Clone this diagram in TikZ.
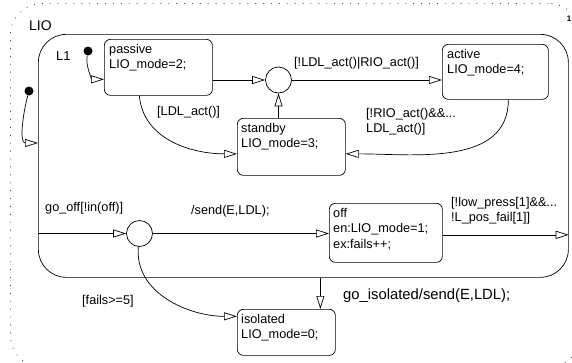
\documentclass[tikz,border=0pt]{standalone}
\usepackage{fontspec}
\setmainfont{Liberation Sans}
\usetikzlibrary{arrows.meta}
\tikzset{
  state/.style={draw, rounded corners=6pt, line width=0.7pt, inner sep=0pt},
  statetext/.style={anchor=north west, align=left, inner sep=0pt, font=\fontsize{12.7}{15.5}\selectfont},
  junction/.style={draw, circle, minimum size=26pt, inner sep=0pt, line width=0.7pt},
  trans/.style={line width=0.7pt, -{Triangle[open, length=13pt, width=8pt]}},
  tlabel/.style={inner sep=0pt, align=left, font=\fontsize{12.7}{15}\selectfont},
  dflt/.style={circle, fill, minimum size=9pt, inner sep=0pt},
}
\begin{document}
\begin{tikzpicture}[x=1pt, y=-1pt]
            \useasboundingbox (0,0) rectangle (572,362);
            %superstates
            \node[draw=black!70, dash pattern=on 0.9pt off 7pt, line width=0.8pt, rounded corners=32pt, minimum width=570pt, minimum height=364pt, anchor=north west] (LIO) at (10,3) {};

            \node[anchor=west, inner sep=0pt, font=\fontsize{14}{14}\selectfont] (LIO-t) at (29,26) {LIO};

            \node[font=\bfseries\fontsize{8}{8}\selectfont, inner sep=0pt] (num) at (569,19) {1};

            \node[draw, line width=0.7pt, rounded corners=28pt, minimum width=530pt, minimum height=243pt, anchor=north west] (L1) at (38,34) {};

            \node[anchor=west, inner sep=0pt, font=\fontsize{13}{13}\selectfont] (L1-t) at (56,56) {L1};

            %states
            \node[state, minimum width=108pt, minimum height=56pt, anchor=north west] (passive) at (104,39) {};

            \node[statetext] (passive-t) at ([shift={(5pt,-5pt)}]passive.north west) {passive\\LIO\_mode=2;};

            \node[state, minimum width=106pt, minimum height=55pt, anchor=north west] (active) at (442,44) {};

            \node[statetext] (active-t) at ([shift={(5pt,-5pt)}]active.north west) {active\\LIO\_mode=4;};

            \node[state, minimum width=108pt, minimum height=57pt, anchor=north west] (standby) at (237,118) {};

            \node[statetext] (standby-t) at ([shift={(4pt,-5pt)}]standby.north west) {standby\\LIO\_mode=3;};

            \node[state, minimum width=113pt, minimum height=59pt, anchor=north west] (off) at (329,203) {};

            \node[statetext] (off-t) at ([shift={(4pt,-5pt)}]off.north west) {off\\en:LIO\_mode=1;\\ex:fails++;};

            \node[state, minimum width=98pt, minimum height=46pt, anchor=north west] (isolated) at (237,309) {};

            \node[statetext] (isolated-t) at ([shift={(4pt,-5pt)}]isolated.north west) {isolated\\LIO\_mode=0;};

            %junctions and default dots
            \node[junction] (j1) at (278.5,80) {};

            \node[junction] (j2) at (139.5,233.5) {};

            \node[dflt] (dLIO) at (29,91) {};

            \node[dflt] (dL1) at (88,51) {};

            \coordinate (l1in) at (38,143);

            %transitions
            \draw[trans] (dLIO) to[out=-105, in=180] (l1in);

            \draw[trans] (dL1) to[out=-100, in=180] ([yshift=-12pt]passive.west);

            \draw[trans] (passive.east |- j1) -- (j1);

            \draw[trans] (j1) -- (active.west |- j1);

            \node[tlabel, anchor=west] (lbl-a) at (294,63) {[!LDL\_act()|RIO\_act()]};

            \draw[trans] (standby.north -| j1) -- (j1);

            \draw[trans] ([xshift=-19pt]passive.south) to[out=-85, in=180] ([yshift=-7pt]standby.west);

            \node[tlabel, anchor=west] (lbl-b) at (157,112) {[LDL\_act()]};

            \draw[trans] ([xshift=13pt]active.south) to[out=-90, in=0] ([yshift=-7pt]standby.east);

            \node[tlabel, anchor=north west] (lbl-c) at (366,108) {[!RIO\_act()\&\&...\\LDL\_act()]};

            \draw[trans] (L1.west |- j2) -- (j2);

            \node[tlabel, anchor=west] (lbl-d) at (45,208) {go\_off[!in(off)]};

            \draw[trans] (j2) -- (off.west |- j2);

            \node[tlabel, anchor=west] (lbl-e) at (191,211) {/send(E,LDL);};

            \draw[trans] ([yshift=-2pt]off.east) -- ([yshift=-2pt]off.east -| L1.east);

            \node[tlabel, anchor=north west] (lbl-f) at (451,197) {[!low\_press[1]\&\&...\\!L\_pos\_fail[1]]};

            \draw[trans] (j2) to[out=-95, in=180] ([yshift=16pt]isolated.west);

            \node[tlabel, anchor=west] (lbl-g) at (82,301) {[fails>=5]};

            \draw[trans] ([xshift=34pt]isolated.north |- L1.south) -- ([xshift=34pt]isolated.north);

            \node[tlabel, anchor=west, font=\fontsize{14.8}{15}\selectfont] (lbl-h) at (343,296) {go\_isolated/send(E,LDL);};
\end{tikzpicture}
\end{document}
